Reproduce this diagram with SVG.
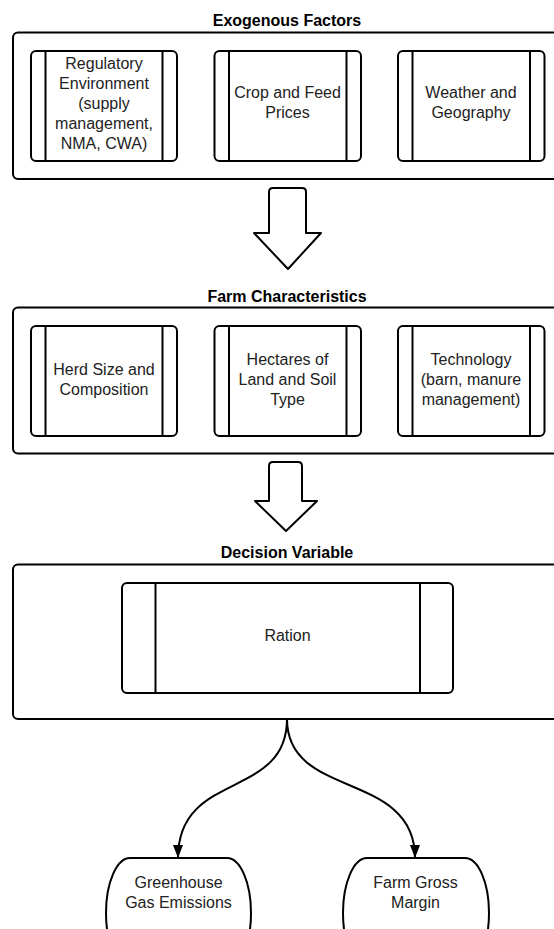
<svg xmlns="http://www.w3.org/2000/svg" width="554" height="929" viewBox="0 0 554 929">
<defs>
<style>
.bg{fill:#fff}
.outer{fill:#fff;stroke:#000;stroke-width:2}
.box{fill:#fff;stroke:#000;stroke-width:2}
.ln{stroke:#000;stroke-width:2}
.t{font-family:"Liberation Sans",Arial,sans-serif;font-size:16px;fill:#222;text-anchor:middle}
.h{font-family:"Liberation Sans",Arial,sans-serif;font-size:16px;font-weight:bold;fill:#000;text-anchor:middle}
.big{fill:#fff;stroke:#000;stroke-width:2;stroke-linejoin:round}
.conn{fill:none;stroke:#000;stroke-width:2}
</style>
<marker id="ah" viewBox="0 0 13 10" refX="13" refY="5" markerWidth="13" markerHeight="10" markerUnits="userSpaceOnUse" orient="auto">
<path d="M0,0 L13,5 L0,10 Z" fill="#000"/>
</marker>
</defs>
<rect class="bg" x="0" y="0" width="554" height="929"/>

<g id="exogenous">
<text class="h" x="287" y="26">Exogenous Factors</text>
<rect class="outer" x="13" y="32.5" width="560" height="146.5" rx="5"/>
</g>
<g id="regulatory">
<rect class="box" x="31" y="51" width="146" height="110" rx="5"/>
<line class="ln" x1="45.5" y1="51" x2="45.5" y2="161"/>
<line class="ln" x1="162.5" y1="51" x2="162.5" y2="161"/>
<text class="t" x="104" y="69">Regulatory</text>
<text class="t" x="104" y="89">Environment</text>
<text class="t" x="104" y="109">(supply</text>
<text class="t" x="104" y="129">management,</text>
<text class="t" x="104" y="149">NMA, CWA)</text>
</g>
<g id="prices">
<rect class="box" x="214.5" y="51" width="146.5" height="110" rx="5"/>
<line class="ln" x1="229" y1="51" x2="229" y2="161"/>
<line class="ln" x1="346.5" y1="51" x2="346.5" y2="161"/>
<text class="t" x="287.5" y="98">Crop and Feed</text>
<text class="t" x="287.5" y="118">Prices</text>
</g>
<g id="weather">
<rect class="box" x="398" y="51" width="146.5" height="110" rx="5"/>
<line class="ln" x1="412.5" y1="51" x2="412.5" y2="161"/>
<line class="ln" x1="530" y1="51" x2="530" y2="161"/>
<text class="t" x="471" y="98">Weather and</text>
<text class="t" x="471" y="118">Geography</text>
</g>

<g id="arrow1">
<path class="big" d="M269,192 Q269,188 273,188 L302,188 Q306,188 306,192 L306,233 L321,233 L288,269 L254,233 L269,233 Z"/>
</g>

<g id="farm">
<text class="h" x="287" y="302">Farm Characteristics</text>
<rect class="outer" x="13" y="307.5" width="560" height="146" rx="5"/>
</g>
<g id="herd">
<rect class="box" x="31" y="326" width="146" height="110" rx="5"/>
<line class="ln" x1="45.5" y1="326" x2="45.5" y2="436"/>
<line class="ln" x1="162.5" y1="326" x2="162.5" y2="436"/>
<text class="t" x="104" y="375">Herd Size and</text>
<text class="t" x="104" y="395">Composition</text>
</g>
<g id="land">
<rect class="box" x="214.5" y="326" width="146.5" height="110" rx="5"/>
<line class="ln" x1="229" y1="326" x2="229" y2="436"/>
<line class="ln" x1="346.5" y1="326" x2="346.5" y2="436"/>
<text class="t" x="287.5" y="365">Hectares of</text>
<text class="t" x="287.5" y="385">Land and Soil</text>
<text class="t" x="287.5" y="405">Type</text>
</g>
<g id="technology">
<rect class="box" x="398" y="326" width="146.5" height="110" rx="5"/>
<line class="ln" x1="412.5" y1="326" x2="412.5" y2="436"/>
<line class="ln" x1="530" y1="326" x2="530" y2="436"/>
<text class="t" x="471" y="365">Technology</text>
<text class="t" x="471" y="385">(barn, manure</text>
<text class="t" x="471" y="405">management)</text>
</g>

<g id="arrow2">
<path class="big" d="M269,466 Q269,462 273,462 L298,462 Q302,462 302,466 L302,501 L317,501 L286,531 L255,501 L269,501 Z"/>
</g>

<g id="decision">
<text class="h" x="287" y="558">Decision Variable</text>
<rect class="outer" x="13" y="564.5" width="560" height="154.5" rx="5"/>
</g>
<g id="ration">
<rect class="box" x="122" y="583" width="331" height="110" rx="5"/>
<line class="ln" x1="155.5" y1="583" x2="155.5" y2="693"/>
<line class="ln" x1="420" y1="583" x2="420" y2="693"/>
<text class="t" x="287.5" y="641">Ration</text>
</g>

<g id="connectors">
<path class="conn" d="M287,719 C287,800 178,770 178,858" marker-end="url(#ah)"/>
<path class="conn" d="M287,719 C287,800 415,770 415,858" marker-end="url(#ah)"/>
</g>

<g id="ghg">
<path class="box" d="M130,858 L227,858 A24,55 0 0 1 251,913 A24,55 0 0 1 227,968 L130,968 A24,55 0 0 1 106,913 A24,55 0 0 1 130,858 Z"/>
<text class="t" x="178.5" y="888">Greenhouse</text>
<text class="t" x="178.5" y="908">Gas Emissions</text>
</g>
<g id="margin">
<path class="box" d="M367,858 L465,858 A24,55 0 0 1 489,913 A24,55 0 0 1 465,968 L367,968 A24,55 0 0 1 343,913 A24,55 0 0 1 367,858 Z"/>
<text class="t" x="415.5" y="888">Farm Gross</text>
<text class="t" x="415.5" y="908">Margin</text>
</g>
</svg>
